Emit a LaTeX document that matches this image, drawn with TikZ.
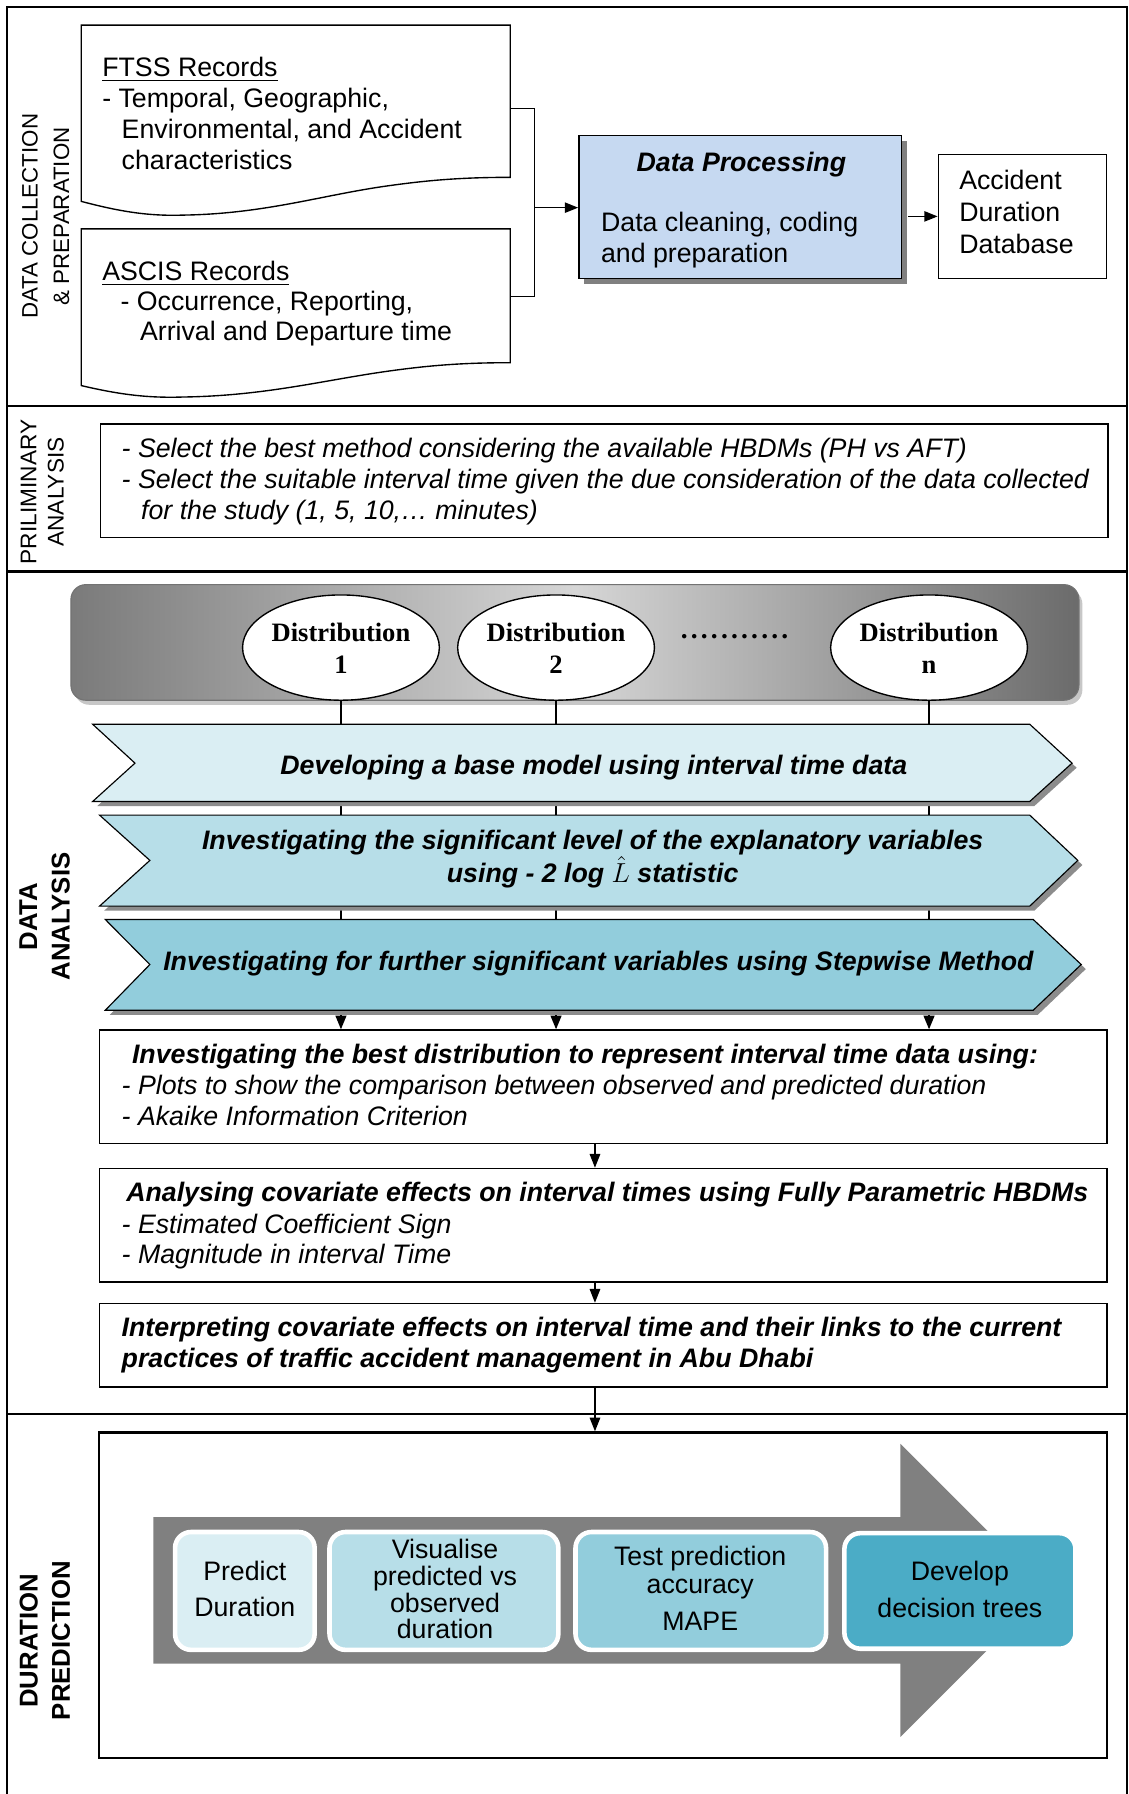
\documentclass[tikz,border=0pt]{standalone}
\usepackage{fontspec}
\setmainfont{Liberation Sans}
\newfontfamily\serifb{Liberation Serif}
\usetikzlibrary{shapes.geometric,arrows.meta,calc,fit}
\newcommand\myfs{\fontsize{11.68pt}{13.5pt}\selectfont}
\definecolor{cA}{HTML}{DAEEF3}
\definecolor{cB}{HTML}{B7DEE8}
\definecolor{cC}{HTML}{92CDDC}
\definecolor{cD}{HTML}{4BACC6}
\definecolor{dpblue}{HTML}{C6D9F1}
\tikzset{
  frameline/.style={line width=0.9pt, draw=black},
  conn/.style={line width=0.6pt, draw=black},
  bigtip/.style={-{Triangle[length=5.8pt,width=4.5pt]}},
  midtip/.style={-{Triangle[length=6pt,width=4.6pt]}},
  smalltip/.style={-{Triangle[length=6pt,width=4.8pt]}},
  txt/.style={anchor=base west, inner sep=0pt, font=\myfs},
  txtc/.style={anchor=base, inner sep=0pt, font=\myfs},
  bi/.style={font=\myfs\bfseries\itshape},
  it/.style={font=\myfs\itshape},
  plainbox/.style={draw=black, line width=0.7pt, inner sep=0pt, fill=white},
  ghost/.style={inner sep=0pt},
  rot/.style={rotate=90, align=center, inner sep=0pt},
  dist/.style={ellipse, draw=black, line width=0.6pt, fill=white, minimum width=86pt, minimum height=46pt, inner sep=0pt},
  disttxt/.style={anchor=base, inner sep=0pt, font=\serifb\bfseries\fontsize{11.6pt}{14pt}\selectfont},
  rbox/.style={draw=white, line width=2pt, rounded corners=7pt, inner sep=0pt},
  chev/.style={draw=black, line width=0.5pt},
  chevshadow/.style={fill=black!45},
}
\begin{document}
\begin{tikzpicture}[x=0.5pt,y=-0.5pt]
\useasboundingbox (0,0) rectangle (986,1568);
\fill[white] (0,0) rectangle (986,1568);

% ---------- outer frame and dividers ----------
\draw[frameline] (6.5,1568) -- (6.5,6.5) -- (985,6.5) -- (985,1568);
\draw[frameline] (6.5,355) -- (985,355);
\draw[frameline] (6.5,499.5) -- (985,499.5);
\draw[frameline] (6.5,1235.5) -- (985,1235.5);

% ---------- section labels ----------
\node[rot, font=\fontsize{9.75pt}{13.75pt}\selectfont] (lab1) at (40,189) {DATA COLLECTION\\\& PREPARATION};
\node[rot, font=\fontsize{9.9pt}{12pt}\selectfont] (lab2) at (37,430) {PRILIMINARY\\ANALYSIS};
\node[rot, font=\fontsize{11.25pt}{14.2pt}\selectfont\bfseries] (lab3) at (39,801) {DATA\\ANALYSIS};
\node[rot, font=\fontsize{11.25pt}{14.1pt}\selectfont\bfseries] (lab4) at (39.3,1434) {DURATION\\PREDICTION};

% ---------- section 1 ----------
\node[ghost, fit={(71,22) (446,188)}] (ftss) {};
\node[ghost, fit={(71,200) (446,347)}] (ascis) {};
\filldraw[fill=white, draw=black, line width=0.6pt] (71,176) -- (71,22) -- (446,22) -- (446,155)
  .. controls (400,155) and (370,158) .. (335,163)
  .. controls (280,171) and (230,187) .. (160,188)
  .. controls (130,189) and (105,185) .. (71,176) -- cycle;
\filldraw[fill=white, draw=black, line width=0.6pt] (71,337) -- (71,200) -- (446,200) -- (446,317)
  .. controls (400,317) and (370,320) .. (335,325)
  .. controls (280,333) and (230,346) .. (160,347)
  .. controls (130,348) and (105,345) .. (71,337) -- cycle;

\node[txt] (f1) at (89,67) {\underline{FTSS Records}};
\node[txt] (f2) at (89,94) {- Temporal, Geographic,};
\node[txt] (f3) at (106,121) {Environmental, and Accident};
\node[txt] (f4) at (106,148) {characteristics};
\node[txt] (a1) at (89,245.5) {\underline{ASCIS Records}};
\node[txt] (a2) at (105,271.5) {- Occurrence, Reporting,};
\node[txt] (a3) at (122,298) {Arrival and Departure time};

\fill[black!50] (510.5,123) rectangle (792.5,247.8);
\node[plainbox, fill=dpblue, fit={(506,118.6) (788,243.3)}] (dp) {};
\node[txtc, bi] (dp1) at (648,150) {Data Processing};
\node[txt] (dp2) at (525,202.5) {Data cleaning, coding};
\node[txt] (dp3) at (525,229) {and preparation};

\node[plainbox, line width=0.5pt, fit={(820,135) (967.4,243.3)}] (add) {};
\node[txt] (ad1) at (838,166) {Accident};
\node[txt] (ad2) at (838,194) {Duration};
\node[txt] (ad3) at (838,221.5) {Database};

\coordinate (brk) at (467,181.5);
\draw[conn] (ftss.east |- 0,94.7) -- (467,94.7) -- (467,259.3) -- (ascis.east |- 0,259.3);
\draw[conn, bigtip] (brk) -- (dp.west |- brk);
\draw[conn, bigtip] ([xshift=2.5pt]dp.east |- add.west) -- (add.west);

% ---------- section 2 ----------
\node[plainbox, fit={(88,370.6) (968.5,469.7)}] (pre) {};
\node[txt, it] (pr1) at (106,400) {- Select the best method considering the available HBDMs (PH vs AFT)};
\node[txt, it] (pr2) at (106,427) {- Select the suitable interval time given the due consideration of the data collected};
\node[txt, it] (pr3) at (123,454) {for the study (1, 5, 10,… minutes)};

% ---------- section 3 ----------
\fill[black!22, rounded corners=6.5pt] (65,515) rectangle (946,616);
\shadedraw[draw=black!55, line width=0.5pt, left color=black!52, right color=black!58, middle color=black!16, rounded corners=6.5pt] (62,511) rectangle (943,612);

\node[dist] (d1) at (298,566) {};
\node[dist] (d2) at (486,566) {};
\node[dist] (dn) at (812,566) {};
\node[disttxt] (d1a) at (298,561) {Distribution};
\node[disttxt] (d1b) at (298,588.5) {1};
\node[disttxt] (d2a) at (486,561) {Distribution};
\node[disttxt] (d2b) at (486,588.5) {2};
\node[disttxt] (dna) at (812,561) {Distribution};
\node[disttxt] (dnb) at (812,588.5) {n};
\node[anchor=base, inner sep=0pt, font=\serifb\bfseries\fontsize{12pt}{13pt}\selectfont] (dots) at (642,558) {.\kern1.4pt.\kern1.4pt.\kern1.4pt.\kern1.4pt.\kern1.4pt.\kern1.4pt.\kern1.4pt.\kern1.4pt.\kern1.4pt.\kern1.4pt.};

\node[plainbox, fit={(87,900.3) (967.7,999.4)}] (boxA) {};
\node[plainbox, fit={(87,1021.3) (967.7,1120.4)}] (boxB) {};
\node[plainbox, fit={(87,1139.3) (967.7,1212)}] (boxC) {};
\node[plainbox, line width=1pt, fit={(86.5,1252) (967.5,1536.4)}] (boxD) {};

\draw[conn, smalltip] (d1.south) -- (d1.south |- boxA.north);
\draw[conn, smalltip] (d2.south) -- (d2.south |- boxA.north);
\draw[conn, smalltip] (dn.south) -- (dn.south |- boxA.north);

% chevrons
\fill[chevshadow] (85,637) -- (904,637) -- (941,671) -- (904,704.5) -- (85,704.5) -- (122,671) -- cycle;
\filldraw[chev, fill=cA] (81,633) -- (900,633) -- (937,667) -- (900,700.5) -- (81,700.5) -- (118,667) -- cycle;
\fill[chevshadow] (91,716.4) -- (904,716.4) -- (946,756) -- (904,796) -- (91,796) -- (135,756) -- cycle;
\filldraw[chev, fill=cB] (87,712.4) -- (900,712.4) -- (942,752) -- (900,792) -- (87,792) -- (131,752) -- cycle;
\fill[chevshadow] (96,807.6) -- (907,807.6) -- (949,847) -- (907,887) -- (96,887) -- (135,847) -- cycle;
\filldraw[chev, fill=cC] (92,803.6) -- (903,803.6) -- (945,843) -- (903,883) -- (92,883) -- (131,843) -- cycle;

\node[txtc, bi] (ch1) at (519,677) {Developing a base model using interval time data};
\node[txtc, bi] (ch2a) at (518,742.5) {Investigating the significant level of the explanatory variables};
\node[txtc, bi] (ch2b) at (518,771.5) {using - 2 log \smash{$\hat{L}$} statistic};
\node[txtc, bi] (ch3) at (523,848) {Investigating for further significant variables using Stepwise Method};

\node[txt, bi] (ba1) at (115,929.5) {Investigating the best distribution to represent interval time data using:};
\node[txt, it] (ba2) at (106,957) {- Plots to show the comparison between observed and predicted duration};
\node[txt, it] (ba3) at (106,984) {- Akaike Information Criterion};
\node[txt, bi] (bb1) at (110,1050.5) {Analysing covariate effects on interval times using Fully Parametric HBDMs};
\node[txt, it] (bb2) at (106,1078) {- Estimated Coefficient Sign};
\node[txt, it] (bb3) at (106,1104.5) {- Magnitude in interval Time};
\node[txt, bi] (bc1) at (106,1168.5) {Interpreting covariate effects on interval time and their links to the current};
\node[txt, bi] (bc2) at (106,1195) {practices of traffic accident management in Abu Dhabi};

\coordinate (ax) at (520,0);
\draw[conn, midtip] (boxA.south -| ax) -- (boxB.north -| ax);
\draw[conn, midtip] (boxB.south -| ax) -- (boxC.north -| ax);
\draw[conn, midtip] (boxC.south -| ax) -- (boxD.north -| ax);

% ---------- section 4 ----------
\fill[black!50] (134,1326) -- (787,1326) -- (787,1262) -- (915,1390) -- (787,1518) -- (787,1454) -- (134,1454) -- cycle;
\node[rbox, fill=cA, fit={(153,1339) (275,1442)}] (s1) {};
\node[rbox, fill=cB, fit={(288,1339) (488,1442)}] (s2) {};
\node[rbox, fill=cC, fit={(503,1339) (722,1442)}] (s3) {};
\node[rbox, fill=cD, fit={(738,1340) (940,1441)}] (s4) {};

\node[txtc] (s1a) at (214,1381) {Predict};
\node[txtc] (s1b) at (214,1413) {Duration};
\node[txtc] (s2a) at (389,1362) {Visualise};
\node[txtc] (s2b) at (389,1385.5) {predicted vs};
\node[txtc] (s2c) at (389,1409) {observed};
\node[txtc] (s2d) at (389,1432) {duration};
\node[txtc] (s3a) at (612,1368) {Test prediction};
\node[txtc] (s3b) at (612,1393) {accuracy};
\node[txtc] (s3c) at (612,1425) {MAPE};
\node[txtc] (s4a) at (839,1381) {Develop};
\node[txtc] (s4b) at (839,1414) {decision trees};
\end{tikzpicture}
\end{document}
